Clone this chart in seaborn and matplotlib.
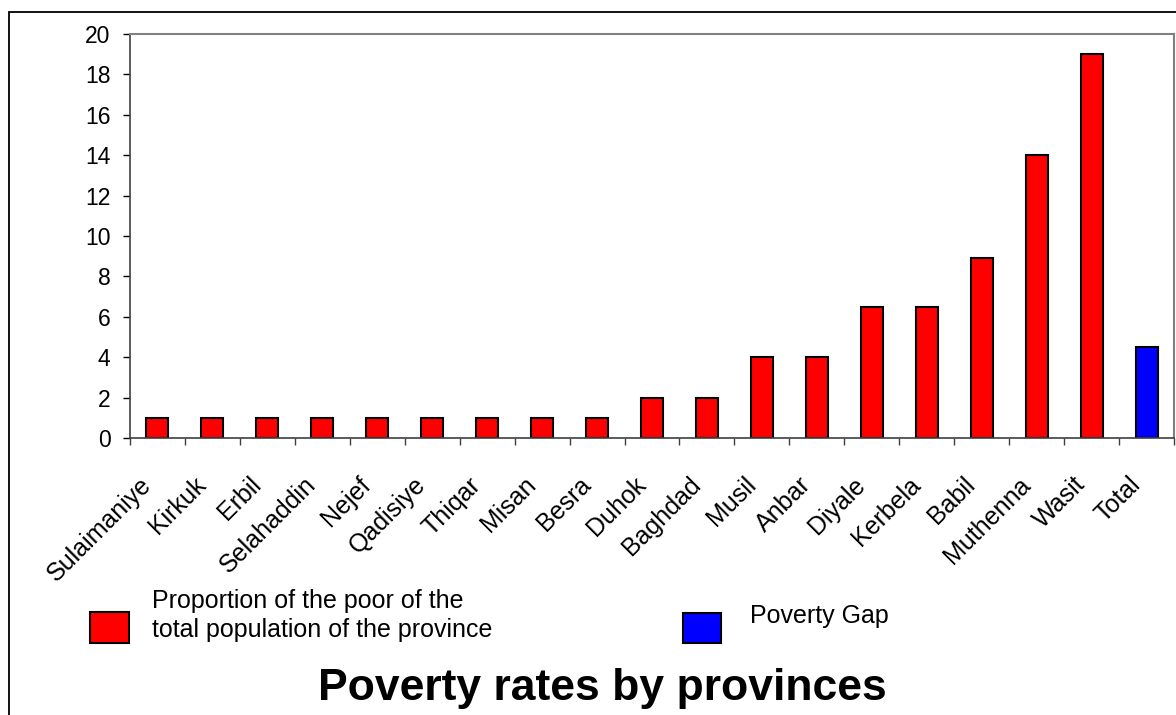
import matplotlib
matplotlib.use('Agg')
import matplotlib.pyplot as plt
import matplotlib.transforms as mtransforms
import seaborn as sns
from matplotlib.patches import Rectangle

# ========== DATA ==========
provinces = ['Sulaimaniye', 'Kirkuk', 'Erbil', 'Selahaddin', 'Nejef', 'Qadisiye',
             'Thiqar', 'Misan', 'Besra', 'Duhok', 'Baghdad', 'Musil', 'Anbar',
             'Diyale', 'Kerbela', 'Babil', 'Muthenna', 'Wasit', 'Total']
values = [1, 1, 1, 1, 1, 1, 1, 1, 1, 2, 2, 4, 4, 6.5, 6.5, 8.9, 14, 19, 4.5]
series = ['poor'] * 18 + ['gap']
poor_label = ['Proportion of the poor of the', 'total population of the province']
gap_label = 'Poverty Gap'
title = 'Poverty rates by provinces'
y_ticks = list(range(0, 21, 2))

# ========== SETTINGS ==========
sns.set_style("white")
plt.rcParams['font.family'] = ['Liberation Sans', 'DejaVu Sans']
plt.rcParams['text.color'] = 'black'
plt.rcParams['xtick.color'] = 'black'
plt.rcParams['ytick.color'] = 'black'

W, H = 1176, 715
fig = plt.figure(figsize=(W / 100, H / 100), dpi=100)
ax = fig.add_axes([130 / W, 1 - 438 / H, 1044 / W, 404 / H])

palette = {'poor': '#FF0000', 'gap': '#0000FF'}
sns.barplot(x=provinces, y=values, hue=series, palette=palette, dodge=False,
            width=0.4, edgecolor='black', linewidth=1.5, legend=False, ax=ax,
            saturation=1)

ax.set_ylim(0, 20)
ax.set_xlim(-0.5, len(provinces) - 0.5)
ax.set_yticks(y_ticks)
ax.tick_params(axis='y', labelsize=16.5, length=5, width=1, direction='out', left=True, pad=9)

# x labels: rotated, offset below axis
ax.set_xticks(range(len(provinces)))
ax.set_xticklabels(provinces, rotation=45, ha='right', va='center',
                   rotation_mode='anchor', fontsize=18)
ax.tick_params(axis='x', which='major', length=0, pad=31)
offset = mtransforms.ScaledTranslation(-10 / 100, 0, fig.dpi_scale_trans)
for lab in ax.xaxis.get_majorticklabels():
    lab.set_transform(lab.get_transform() + offset)
# tick marks between categories
ax.set_xticks([i + 0.5 for i in range(-1, len(provinces))], minor=True)
ax.tick_params(axis='x', which='minor', length=5, width=1, color='#404040', bottom=True)

for side in ['top', 'right']:
    ax.spines[side].set_color('#808080')
    ax.spines[side].set_linewidth(1.5)
for side in ['left', 'bottom']:
    ax.spines[side].set_color('#404040')
    ax.spines[side].set_linewidth(1.2)
ax.set_xlabel('')
ax.set_ylabel('')

# outer border
fig.patches.append(Rectangle((9 / W, -0.05), 1.2, 1.05 - 12 / H, transform=fig.transFigure,
                             fill=False, edgecolor='black', linewidth=1.3))

# legend (drawn by hand to match the layout)
fig.patches.append(Rectangle((90 / W, 1 - 643 / H), 39 / W, 31 / H, transform=fig.transFigure,
                             facecolor=palette['poor'], edgecolor='black', linewidth=1.5))
fig.patches.append(Rectangle((683 / W, 1 - 643 / H), 38 / W, 30 / H, transform=fig.transFigure,
                             facecolor=palette['gap'], edgecolor='black', linewidth=1.5))
fig.text(152 / W, 1 - 608 / H, poor_label[0], fontsize=18, va='baseline', ha='left')
fig.text(152 / W, 1 - 637 / H, poor_label[1], fontsize=18, va='baseline', ha='left')
fig.text(750 / W, 1 - 623 / H, gap_label, fontsize=18, va='baseline', ha='left')

fig.text(602 / W, 1 - 700 / H, title, ha='center', va='baseline',
         fontsize=32, fontweight='bold')

plt.savefig('out.png', dpi=100)
